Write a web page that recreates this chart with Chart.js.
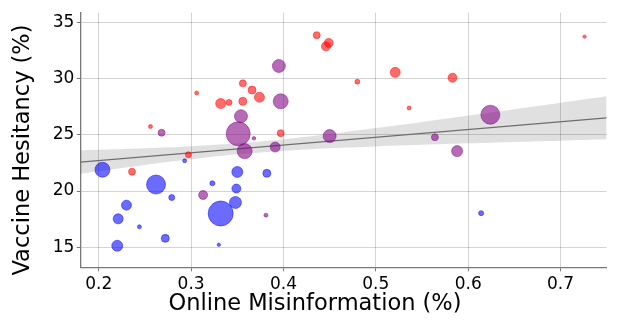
<!DOCTYPE html>
<html><head><meta charset="utf-8">
<script src="https://cdn.jsdelivr.net/npm/chart.js@4/dist/chart.umd.min.js"></script>
<style>html,body{margin:0;padding:0;background:#fff;overflow:hidden}</style>
</head><body>
<canvas id="c" width="617" height="322" style="width:617px;height:322px;display:block"></canvas>
<script>
// ---- data ----
const redX = [0.306,0.332,0.341,0.356,0.366,0.356,0.374,0.256,0.436,0.446,0.449,0.521,0.480,0.536,0.397,0.583,0.726,0.297,0.236];
const redY = [28.75,27.8,27.9,29.6,29.0,28.0,28.36,25.75,33.9,32.9,33.2,30.58,29.75,27.4,25.16,30.1,33.77,23.24,21.73];
const redR = [2,5,3,3.5,4,4,5,2,3.5,4.5,4.5,5,2.5,2,3.5,4.5,1.7,3,3.5];

const purpleX = [0.354,0.351,0.268,0.368,0.395,0.397,0.450,0.564,0.624,0.358,0.313,0.391,0.381,0.588];
const purpleY = [26.67,25.1,25.2,24.7,31.15,28.0,24.9,24.8,26.8,23.56,19.65,23.92,17.85,23.56];
const purpleR = [6.5,12,3.5,1.8,6.5,7.5,6.5,3.5,9.5,7.5,4.5,5,2,5.5];

const blueX = [0.293,0.204,0.350,0.323,0.262,0.349,0.279,0.348,0.230,0.332,0.221,0.244,0.272,0.220,0.330,0.382,0.614];
const blueY = [22.7,21.9,21.7,20.69,20.58,20.22,19.42,18.98,18.74,18.0,17.52,16.81,15.78,15.12,15.21,21.58,18.03];
const blueR = [2,7.5,5.5,2.5,9.5,4.5,3,6,5,12.5,5,2,4,5.5,1.7,4,2.5];

const fitX = [0.18,0.75];
const fitY = [22.58,26.53];
const bandX = [0.18,0.25,0.30,0.35,0.40,0.45,0.50,0.55,0.60,0.65,0.70,0.75];
const bandUpper = [23.62,23.81,23.99,24.25,24.62,25.09,25.62,26.16,26.73,27.30,27.87,28.45];
const bandLower = [21.54,22.33,22.83,23.27,23.58,23.81,23.98,24.12,24.25,24.38,24.49,24.61];

const xTickValues = [0.2,0.3,0.4,0.5,0.6,0.7];
const yTickValues = [15,20,25,30,35];
const xTitle = "Online Misinformation (%)";
const yTitle = "Vaccine Hesitancy (%)";

const pts = (xs, ys, rs) => xs.map((x, i) => rs ? {x, y: ys[i], r: rs[i]} : {x, y: ys[i]});
const FONT = "'DejaVu Sans', sans-serif";

// keep the plot area fixed: bubbles may overflow like in the reference
Chart.BubbleController.prototype.getMaxOverflow = function () { return 0; };

const titlePlugin = {
  id: 'axisTitles',
  afterDraw(chart) {
    const ctx = chart.ctx;
    ctx.save();
    ctx.fillStyle = '#000';
    ctx.font = "22.5px " + FONT;
    ctx.textAlign = 'center';
    ctx.textBaseline = 'middle';
    ctx.fillText(xTitle, 315, 304);
    ctx.translate(23, 150);
    ctx.rotate(-Math.PI / 2);
    ctx.fillText(yTitle, 0, 0);
    ctx.restore();
  }
};

const bubbleCommon = (col) => ({
  type: 'bubble',
  backgroundColor: col,
  borderColor: col,
  borderWidth: 0.8,
  hoverBorderWidth: 0.8,
  order: 0
});

new Chart(document.getElementById('c'), {
  type: 'bubble',
  data: {
    datasets: [
      Object.assign({label: 'red', data: pts(redX, redY, redR)}, bubbleCommon('rgba(255,0,0,0.58)')),
      Object.assign({label: 'purple', data: pts(purpleX, purpleY, purpleR)}, bubbleCommon('rgba(128,0,128,0.58)')),
      Object.assign({label: 'blue', data: pts(blueX, blueY, blueR)}, bubbleCommon('rgba(0,0,255,0.58)')),
      {type: 'line', label: 'fit', data: pts(fitX, fitY), borderColor: '#6e6e6e', borderWidth: 1.3,
       pointRadius: 0, fill: false, order: 5},
      {type: 'line', label: 'upper', data: pts(bandX, bandUpper), borderWidth: 0, borderColor: 'rgba(0,0,0,0)',
       pointRadius: 0, fill: '+1', backgroundColor: 'rgba(0,0,0,0.12)', tension: 0.4, order: 8},
      {type: 'line', label: 'lower', data: pts(bandX, bandLower), borderWidth: 0, borderColor: 'rgba(0,0,0,0)',
       pointRadius: 0, fill: false, tension: 0.4, order: 9}
    ]
  },
  options: {
    responsive: false,
    animation: false,
    devicePixelRatio: 1,
    layout: {padding: {left: 0, top: 12.7, right: 10.3, bottom: 0}},
    plugins: {legend: {display: false}, tooltip: {enabled: false}},
    scales: {
      x: {
        type: 'linear', position: 'bottom', min: 0.18, max: 0.75,
        afterFit(s) { s.height = 54.7; },
        afterBuildTicks(s) { s.ticks = xTickValues.map(v => ({value: v})); },
        ticks: {font: {family: FONT, size: 17}, color: '#000', padding: 3,
                callback: v => v.toFixed(1), maxRotation: 0, autoSkip: false},
        grid: {color: 'rgba(0,0,0,0.17)', lineWidth: 1, tickLength: 4, tickColor: '#777'},
        border: {color: '#777', width: 1.3}
      },
      y: {
        type: 'linear', position: 'left', min: 13.2, max: 35.9,
        afterFit(s) { s.width = 80.3; },
        afterBuildTicks(s) { s.ticks = yTickValues.map(v => ({value: v})); },
        ticks: {font: {family: FONT, size: 17}, color: '#000', padding: 2.5,
                callback: v => String(v), autoSkip: false},
        grid: {color: 'rgba(0,0,0,0.17)', lineWidth: 1, tickLength: 3.5, tickColor: '#777'},
        border: {color: '#777', width: 1.3}
      }
    }
  },
  plugins: [titlePlugin]
});
</script>
</body></html>
